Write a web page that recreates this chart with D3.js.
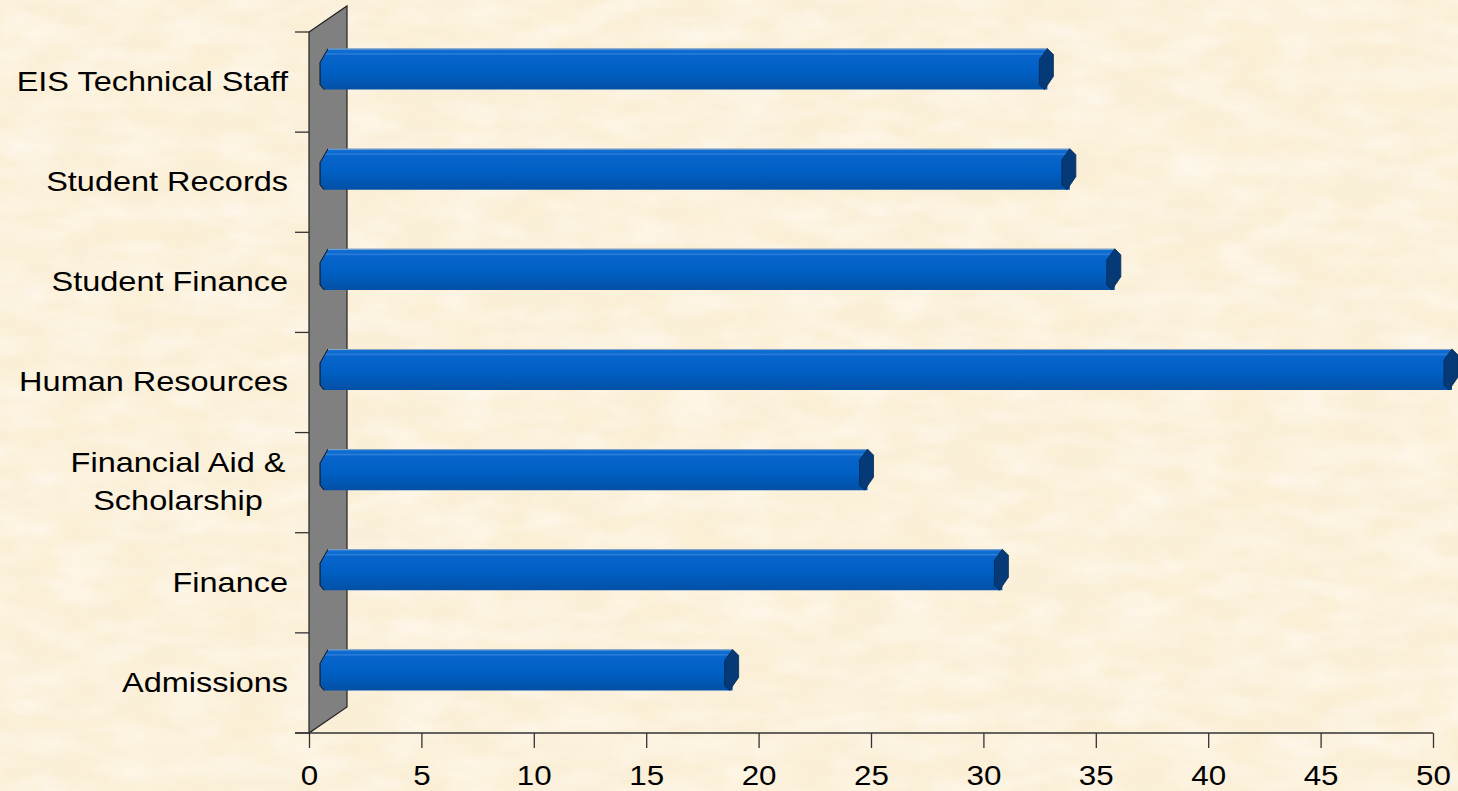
<!DOCTYPE html>
<html>
<head>
<meta charset="utf-8">
<script src="https://cdn.jsdelivr.net/npm/d3@7/dist/d3.min.js"></script>
<style>
  html, body { margin: 0; padding: 0; background: #fbefd6; }
  svg { display: block; }
  text { font-family: "Liberation Sans", Arial, sans-serif; fill: #000; }
</style>
</head>
<body>
<svg id="chart" width="1458" height="791"></svg>
<script>
// categories top to bottom
var categories = ["EIS Technical Staff", "Student Records", "Student Finance", "Human Resources", "Financial Aid & Scholarship", "Finance", "Admissions"]
var labelLines = [["EIS Technical Staff"], ["Student Records"], ["Student Finance"], ["Human Resources"], ["Financial Aid &", "Scholarship"], ["Finance"], ["Admissions"]]
var values = [32, 33, 35, 50, 24, 30, 18]
var xTicks = [0, 5, 10, 15, 20, 25, 30, 35, 40, 45, 50]

var svg = d3.select("#chart")
var W = 1458, H = 791
var sx = 1.16 // the original picture is stretched sideways

// parchment background
var defs = svg.append("defs")
var f = defs.append("filter").attr("id", "paper").attr("x", 0).attr("y", 0).attr("width", "100%").attr("height", "100%")
f.append("feTurbulence").attr("type", "fractalNoise").attr("baseFrequency", "0.01 0.025").attr("numOctaves", 4).attr("seed", 7)
f.append("feColorMatrix").attr("type", "matrix")
  .attr("values", "0 0 0 0 0.93  0 0 0 0 0.85  0 0 0 0 0.70  1.7 0 0 0 -0.62")
var f2 = defs.append("filter").attr("id", "paper2").attr("x", 0).attr("y", 0).attr("width", "100%").attr("height", "100%")
f2.append("feTurbulence").attr("type", "fractalNoise").attr("baseFrequency", "0.018 0.045").attr("numOctaves", 3).attr("seed", 3)
f2.append("feColorMatrix").attr("type", "matrix")
  .attr("values", "0 0 0 0 1  0 0 0 0 0.98  0 0 0 0 0.93  1.7 0 0 0 -0.6")

svg.append("rect").attr("width", W).attr("height", H).attr("fill", "#fbefd6")
svg.append("rect").attr("width", W).attr("height", H).attr("filter", "url(#paper)").attr("opacity", 0.5)
svg.append("rect").attr("width", W).attr("height", H).attr("filter", "url(#paper2)").attr("opacity", 0.65)

var grad = defs.append("linearGradient").attr("id", "barGrad").attr("x1", 0).attr("y1", 0).attr("x2", 0).attr("y2", 1)
grad.append("stop").attr("offset", 0).attr("stop-color", "#2a7ad8")
grad.append("stop").attr("offset", 0.03).attr("stop-color", "#1270d4")
grad.append("stop").attr("offset", 0.1).attr("stop-color", "#0b6acf")
grad.append("stop").attr("offset", 0.13).attr("stop-color", "#2f7fd9")
grad.append("stop").attr("offset", 0.17).attr("stop-color", "#0864cb")
grad.append("stop").attr("offset", 0.55).attr("stop-color", "#0060c4")
grad.append("stop").attr("offset", 1).attr("stop-color", "#0350a6")

// scales (front plane)
var x = d3.scaleLinear().domain([0, 50]).range([309, 1433])
var y = d3.scaleBand().domain(categories).range([32, 733]).padding(0)

// depth of the 3d wall and bar offset inside it
var depthX = 38, depthY = -26
var barShiftX = 11, barShiftY = -13

// back wall on the left
var x0 = x(0), yTop = y.range()[0], yBot = y.range()[1]
svg.append("polygon")
  .attr("points", [[x0, yTop], [x0 + depthX, yTop + depthY], [x0 + depthX, yBot + depthY], [x0, yBot]].join(" "))
  .attr("fill", "#808080").attr("stroke", "#222").attr("stroke-width", 1.2)

// category tick marks
var catTicks = d3.range(categories.length + 1).map(function(i) { return yTop + i * y.step() })
svg.append("g").selectAll("line").data(catTicks).enter().append("line")
  .attr("x1", x0 - 14).attr("x2", x0)
  .attr("y1", function(d) { return d }).attr("y2", function(d) { return d })
  .attr("stroke", "#333").attr("stroke-width", 1.3)

// x axis
var axis = svg.append("g")
  .attr("transform", "translate(0," + yBot + ")")
  .call(d3.axisBottom(x).tickValues(xTicks).tickSize(15).tickSizeOuter(0).tickPadding(17))
axis.select(".domain").remove()
axis.selectAll(".tick line").attr("stroke", "#333").attr("stroke-width", 1.3)
axis.selectAll(".tick text")
  .style("font-family", "'Liberation Sans', Arial, sans-serif")
  .attr("font-size", 28).attr("fill", "#000")
  .attr("transform", "scale(1.12,1)")
svg.append("line").attr("x1", x0 - 14).attr("x2", x(50)).attr("y1", yBot).attr("y2", yBot)
  .attr("stroke", "#333").attr("stroke-width", 1.3)

// category labels
var lab = svg.append("g").selectAll("g").data(labelLines).enter().append("g")
  .attr("transform", function(d, i) { return "translate(" + 178 + "," + (y(categories[i]) + y.bandwidth() / 2 - 1) + ")" })
lab.each(function(lines) {
  var g = d3.select(this)
  var lh = 38
  lines.forEach(function(t, k) {
    var tx = g.append("text")
      .attr("font-size", 28)
      .attr("dy", "0.35em")
      .attr("y", (k - (lines.length - 1) / 2) * lh)
      .attr("transform", "scale(" + sx + ",1)")
      .text(t)
    if (lines.length > 1) {
      tx.attr("text-anchor", "middle")
    } else {
      tx.attr("text-anchor", "end").attr("x", 110 / sx)
    }
  })
})

// bars
var bh = y.bandwidth() * 0.41
var bars = svg.append("g").selectAll("g").data(values).enter().append("g")
bars.each(function(v, i) {
  var g = d3.select(this)
  var cy = y(categories[i]) + y.bandwidth() / 2 + barShiftY
  var y0 = cy - bh / 2, y1 = cy + bh / 2
  var xs = x(0) + barShiftX, xe = x(v) + barShiftX
  g.append("polygon")
    .attr("points", [[xs, y0 + 14], [xs + 8, y0], [xe + 8, y0], [xe + 8, y1], [xs + 4, y1], [xs, y1 - 5]].join(" "))
    .attr("fill", "url(#barGrad)")
  g.append("polyline")
    .attr("points", [[xs + 8, y0], [xs, y0 + 14], [xs, y1 - 5], [xs + 4, y1]].join(" "))
    .attr("fill", "none").attr("stroke", "#111").attr("stroke-width", 1)
  g.append("line").attr("x1", xs + 8).attr("x2", xe + 8).attr("y1", y0 + 0.5).attr("y2", y0 + 0.5)
    .attr("stroke", "#8fa8c4").attr("stroke-width", 1)
  g.append("polygon")
    .attr("points", [[xe, y0 + 11], [xe + 8, y0], [xe + 14, y0 + 6], [xe + 14, y0 + 28], [xe + 5, y1], [xe, y1 - 5]].join(" "))
    .attr("fill", "#053a76").attr("stroke", "#032a58").attr("stroke-width", 0.8)
})
</script>
</body>
</html>
